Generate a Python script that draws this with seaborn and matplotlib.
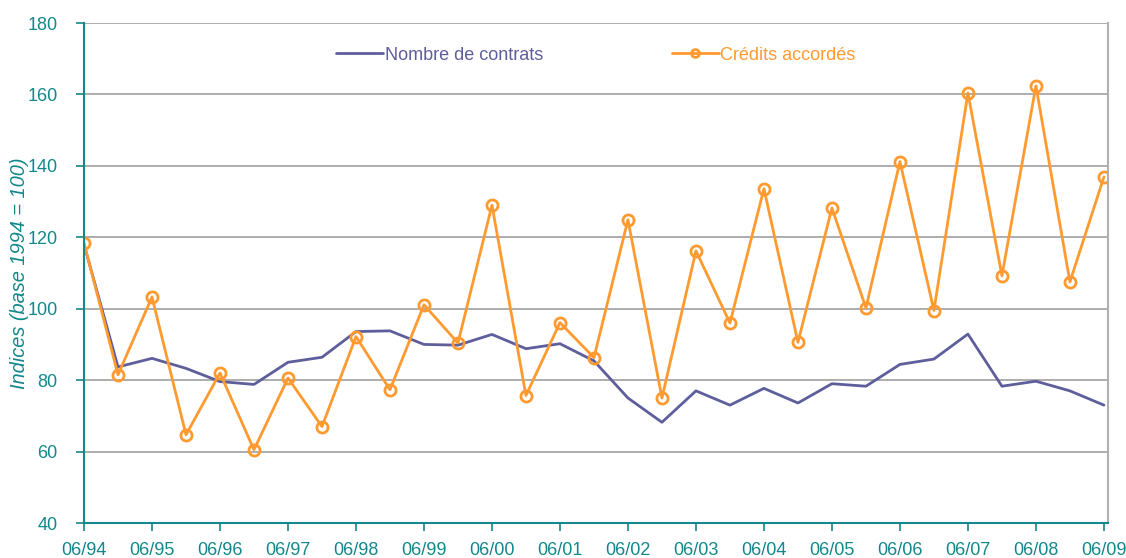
import matplotlib
matplotlib.use("Agg")
import matplotlib.pyplot as plt
import seaborn as sns
import pandas as pd
import numpy as np

periods = ["06/94", "12/94", "06/95", "12/95", "06/96", "12/96", "06/97", "12/97",
           "06/98", "12/98", "06/99", "12/99", "06/00", "12/00", "06/01", "12/01",
           "06/02", "12/02", "06/03", "12/03", "06/04", "12/04", "06/05", "12/05",
           "06/06", "12/06", "06/07", "12/07", "06/08", "12/08", "06/09"]
contrats = [118.0, 83.7, 86.1, 83.3, 79.6, 78.8, 85.0, 86.4, 93.6, 93.8, 90.0, 89.8,
            92.8, 88.8, 90.2, 85.4, 75.0, 68.2, 77.0, 73.0, 77.7, 73.6, 79.0, 78.3,
            84.4, 85.9, 92.9, 78.3, 79.7, 77.0, 73.0]
credits = [118.4, 81.5, 103.3, 64.7, 82.0, 60.5, 80.6, 67.0, 92.2, 77.3, 101.1, 90.4,
           129.0, 75.7, 96.1, 86.3, 124.9, 75.0, 116.2, 96.0, 133.6, 90.6, 128.2, 100.2,
           141.2, 99.5, 160.4, 109.2, 162.4, 107.5, 136.9]
tick_labels = ["06/94", "06/95", "06/96", "06/97", "06/98", "06/99", "06/00", "06/01",
               "06/02", "06/03", "06/04", "06/05", "06/06", "06/07", "06/08", "06/09"]
series_names = ["Nombre de contrats", "Crédits accordés"]

sns.set_style("white")
plt.rcParams['font.family'] = ['Liberation Sans', 'DejaVu Sans']

teal = "#13878a"
purple = "#5e5e9c"
orange = "#ff9a30"

idx = np.arange(len(periods))
df = pd.concat([
    pd.DataFrame({"x": idx, "v": contrats, "s": series_names[0]}),
    pd.DataFrame({"x": idx, "v": credits, "s": series_names[1]}),
])

fig = plt.figure(figsize=(11.26, 5.58), dpi=100)
ax = fig.add_axes([84/1126, 1-523/558, (1108-84)/1126, (523-23)/558])

sns.lineplot(data=df[df.s == series_names[0]], x="x", y="v", ax=ax, color=purple,
             lw=2, label=series_names[0], legend=False)
sns.lineplot(data=df[df.s == series_names[1]], x="x", y="v", ax=ax, color=orange,
             lw=2, marker="o", markersize=8, markerfacecolor="none",
             markeredgecolor=orange, markeredgewidth=2, label=series_names[1], legend=False)

ax.set_xlim(0, 30.12)
ax.set_ylim(40, 180)
ax.set_yticks(np.arange(40, 181, 20))
ax.set_xticks(idx[::2])
ax.set_xticklabels(tick_labels)
ax.grid(axis="y", color="#a0a0a0", lw=1.2)
ax.set_axisbelow(True)
ax.set_xlabel("")
ax.set_ylabel("Indices (base 1994 = 100)", color=teal, fontsize=14.4, style="italic", labelpad=-1.5)

for s in ["left", "bottom"]:
    ax.spines[s].set_color(teal)
    ax.spines[s].set_linewidth(1.5)
ax.spines["right"].set_color("#b0b0b0")
ax.spines["right"].set_linewidth(1.5)
ax.spines["top"].set_visible(False)

ax.tick_params(axis="both", colors=teal, labelsize=13, length=6, width=1.2, direction="out",
               left=True, bottom=True)
ax.tick_params(axis="x", pad=8)
ax.tick_params(axis="y", pad=13)

leg = ax.legend(loc="upper center", bbox_to_anchor=(0.5, 0.985), ncol=2, frameon=False,
                fontsize=13, handlelength=2.6, handletextpad=0.1, columnspacing=7.1,
                markerscale=0.7)
for t, c in zip(leg.get_texts(), [purple, orange]):
    t.set_color(c)

fig.savefig("out.png", dpi=100)
